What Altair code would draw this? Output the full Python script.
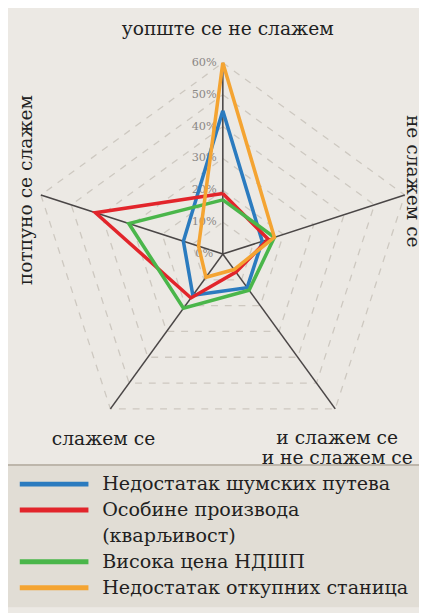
import math
import altair as alt
import pandas as pd

# ---------------- data ----------------
categories = [
    "уопште се не слажем",
    "не слажем се",
    "и слажем се\nи не слажем се",
    "слажем се",
    "потпуно се слажем",
]
series_names = [
    "Недостатак шумских путева",
    "Особине производа (кварљивост)",
    "Висока цена НДШП",
    "Недостатак откупних станица",
]
blue_vals = [45, 13, 13, 16, 13]
red_vals = [19, 15, 7, 17, 42]
green_vals = [17, 17, 14, 21, 31]
orange_vals = [60, 17, 6, 9, 8]
tick_values = [0, 10, 20, 30, 40, 50, 60]
tick_labels = ["0%", "10%", "20%", "30%", "40%", "50%", "60%"]
legend_lines = [
    "Недостатак шумских путева",
    "Особине производа",
    "(кварљивост)",
    "Висока цена НДШП",
    "Недостатак откупних станица",
]
legend_line_rows = [0, 1, 2, 3, 4]
legend_swatch_rows = [0, 1, 3, 4]

colors = ["#2b7bbf", "#e2252b", "#4ab64a", "#f4a432"]
FONT = "DejaVu Serif"
TEXT_COLOR = "#221f1f"

# ---------------- layout ----------------
W, H = 419, 605
PX = 3.25                 # pixels per percent
CX, CY = 219, 245         # centre of the radar in chart pixels
RMAX = 60
xdom = [-CX / PX, (W - CX) / PX]
ydom = [-(H - CY) / PX, CY / PX]
xs = alt.Scale(domain=xdom, nice=False, zero=False)
ys = alt.Scale(domain=ydom, nice=False, zero=False)

n = len(categories)
angles = [math.radians(90 - 72 * k) for k in range(n)]

def pt(r, k):
    return r * math.cos(angles[k]), r * math.sin(angles[k])

rows = []
for name, vals in zip(series_names, [blue_vals, red_vals, green_vals, orange_vals]):
    for i in range(n + 1):
        k = i % n
        x, y = pt(vals[k], k)
        rows.append(dict(series=name, idx=i, x=x, y=y))
sdf = pd.DataFrame(rows)

grows = []
for lv in tick_values[1:]:
    for i in range(n + 1):
        x, y = pt(lv, i % n)
        grows.append(dict(level=lv, idx=i, x=x, y=y))
gdf = pd.DataFrame(grows)

spokes = pd.DataFrame([dict(x=0, y=0, x2=pt(RMAX, k)[0], y2=pt(RMAX, k)[1]) for k in range(n)])
tdf = pd.DataFrame(dict(x=[0] * len(tick_values), y=tick_values, t=tick_labels))

color_scale = alt.Scale(domain=series_names, range=colors)

def X(f="x"):
    return alt.X(f"{f}:Q", scale=xs, axis=None)

def Y(f="y"):
    return alt.Y(f"{f}:Q", scale=ys, axis=None)

legend_bg = alt.Chart(pd.DataFrame({"a": [0]})).mark_rect(color="#e1ddd5").encode(
    x=alt.value(0), x2=alt.value(W), y=alt.value(460), y2=alt.value(H)
)
legend_border = alt.Chart(pd.DataFrame({"a": [0]})).mark_rule(color="#bdb6ab", strokeWidth=2).encode(
    x=alt.value(0), x2=alt.value(W), y=alt.value(460)
)

grid = alt.Chart(gdf).mark_line(color="#cdc8c0", strokeWidth=1.3, strokeDash=[7, 7]).encode(
    x=X(), y=Y(), detail="level:N", order="idx:Q"
)
spoke = alt.Chart(spokes).mark_rule(color="#4a4646", strokeWidth=1.6).encode(
    x=X(), y=Y(), x2="x2:Q", y2="y2:Q"
)
ticks = alt.Chart(tdf).mark_text(
    font=FONT, fontSize=11.5, color="#8a8784", dx=-19, align="center", baseline="middle"
).encode(x=X(), y=Y(), text="t:N")

lines = alt.Chart(sdf).mark_line(strokeWidth=3.6, strokeJoin="miter").encode(
    x=X(), y=Y(),
    color=alt.Color("series:N", scale=color_scale, legend=None),
    detail="series:N",
    order="idx:Q",
)

label_style = [
    dict(angle=0, dx=5, dy=-34),
    dict(angle=90, dx=-14, dy=-8),
    dict(angle=0, dx=2, dy=30),
    dict(angle=0, dx=-7, dy=31),
    dict(angle=270, dx=5, dy=-15),
]
cat_layers = []
for k, (cat, st) in enumerate(zip(categories, label_style)):
    x, y = pt(RMAX, k)
    txt = cat.split("\n")
    d = pd.DataFrame(dict(x=[x], y=[y]))
    cat_layers.append(
        alt.Chart(d).mark_text(
            text=txt if len(txt) > 1 else txt[0],
            font=FONT, fontSize=19, color=TEXT_COLOR, align="center", baseline="middle",
            angle=st["angle"], dx=st["dx"], dy=st["dy"], lineHeight=20,
        ).encode(x=X(), y=Y())
    )

ROW0, ROWH = 479.5, 26.4
lscale = alt.Scale(domain=[-ROW0 / ROWH, (H - ROW0) / ROWH], reverse=True, nice=False, zero=False)
lsw = pd.DataFrame(dict(row=legend_swatch_rows, series=series_names))
ltx = pd.DataFrame(dict(row=legend_line_rows, line=legend_lines))
leg_sw = alt.Chart(lsw).mark_rule(strokeWidth=5).encode(
    x=alt.value(12), x2=alt.value(82),
    y=alt.Y("row:Q", scale=lscale, axis=None),
    color=alt.Color("series:N", scale=color_scale, legend=None),
)
leg_tx = alt.Chart(ltx).mark_text(
    font=FONT, fontSize=19.5, color=TEXT_COLOR, align="left", baseline="middle"
).encode(
    x=alt.value(96),
    y=alt.Y("row:Q", scale=lscale, axis=None),
    text="line:N",
)

chart = alt.layer(
    legend_bg, legend_border, grid, spoke, ticks, lines, *cat_layers, leg_sw, leg_tx
).resolve_scale(x="independent", y="independent").properties(
    width=W, height=H, autosize=alt.AutoSizeParams(type="none"), padding=0
).configure(background="#ece9e4").configure_view(stroke=None)

chart.save("out.html", embed_options={"renderer": "svg", "actions": False})
